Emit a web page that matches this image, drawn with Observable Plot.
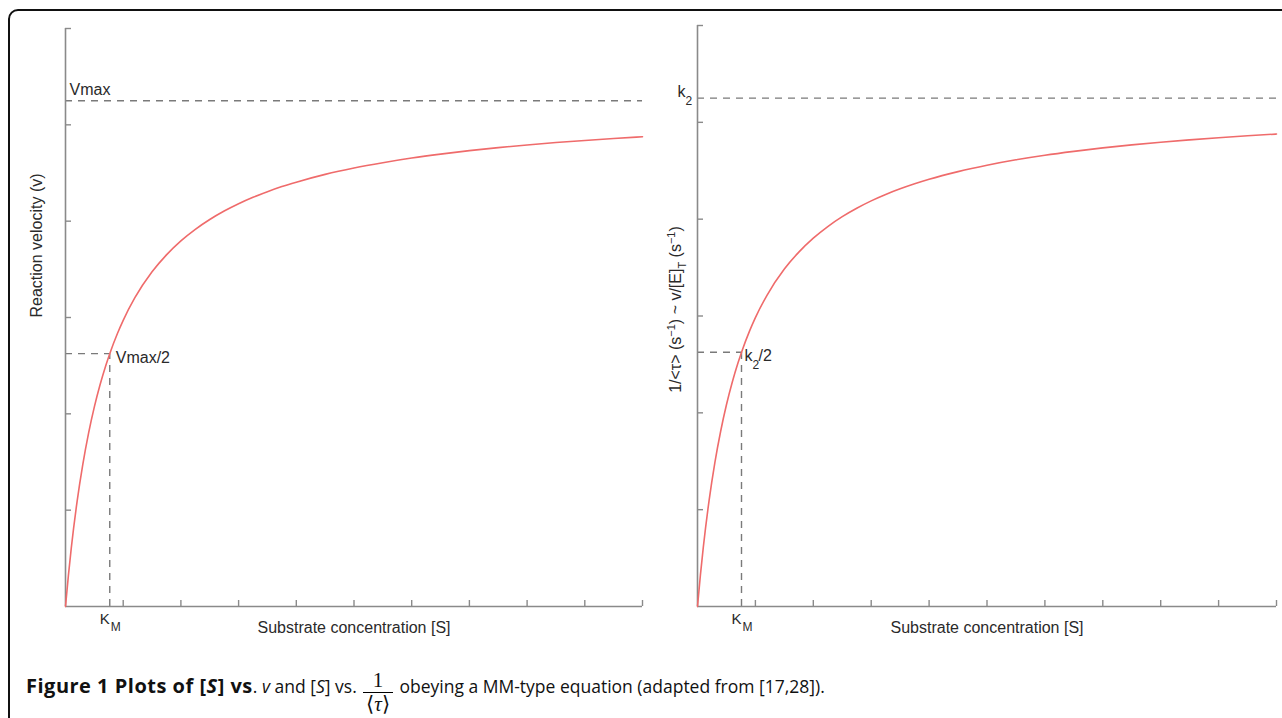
<!DOCTYPE html>
<html>
<head>
<meta charset="utf-8">
<script src="https://cdn.jsdelivr.net/npm/d3@7"></script>
<script src="https://cdn.jsdelivr.net/npm/@observablehq/plot@0.6"></script>
<style>
  html, body { margin: 0; padding: 0; background: #fff; width: 1282px; height: 718px; overflow: hidden; }
  #frame { position: absolute; left: 8px; top: 9px; width: 1400px; height: 800px; border: 2px solid #111; border-radius: 10px; }
  #left { position: absolute; left: 0; top: 0; }
  #right { position: absolute; left: 660px; top: 0; }
  #caption { position: absolute; left: 26px; top: 667px; font-family: "Open Sans", sans-serif; font-size: 17.5px; color: #111; white-space: nowrap; }
  #caption b { font-size: 20px; letter-spacing: 0.5px; }
  .frac { display: inline-flex; flex-direction: column; align-items: center; vertical-align: middle; position: relative; top: 4px; font-family: "Liberation Serif", serif; font-size: 21px; line-height: 19px; margin: 0 5px 0 5px; }
  .frac .bar { align-self: stretch; border-top: 1.6px solid #000; margin: 2px -3px 2px -3px; }
</style>
</head>
<body>
<div id="frame"></div>
<div id="left"></div>
<div id="right"></div>
<div id="caption"><b>Figure 1 Plots of [<i>S</i>] vs</b>. <i>v</i> and [<i>S</i>] vs. <span class="frac"><span>1</span><span class="bar"></span><span>⟨<i>τ</i>⟩</span></span> obeying a MM-type equation (adapted from [17,28]).</div>
<script>
// ---- data ----
const substrate = [0, 0.05, 0.1, 0.2, 0.3, 0.4, 0.5, 0.6, 0.7, 0.77, 0.9, 1, 1.2, 1.5, 1.75, 2, 2.25, 2.5, 2.75, 3, 3.25, 3.5, 3.75, 4, 4.5, 5, 5.5, 6, 6.5, 7, 7.5, 8, 8.5, 9, 9.5, 10];
const velocity  = [0, 0.321, 0.606, 1.086, 1.476, 1.800, 2.072, 2.304, 2.505, 2.630, 2.834, 2.971, 3.203, 3.474, 3.650, 3.795, 3.915, 4.017, 4.105, 4.181, 4.248, 4.306, 4.359, 4.405, 4.486, 4.552, 4.607, 4.655, 4.696, 4.732, 4.763, 4.791, 4.816, 4.838, 4.858, 4.876];
const invTau    = [0, 0.324, 0.610, 1.094, 1.486, 1.810, 2.083, 2.316, 2.517, 2.642, 2.846, 2.983, 3.214, 3.485, 3.660, 3.804, 3.924, 4.026, 4.113, 4.189, 4.255, 4.313, 4.365, 4.412, 4.491, 4.557, 4.613, 4.660, 4.700, 4.736, 4.767, 4.795, 4.819, 4.841, 4.861, 4.879];
const xTicks = [1, 2, 3, 4, 5, 6, 7, 8, 9, 10];
const yTicks = [1, 2, 3, 4, 5, 6];
const xDomain = [0, 10];
const yDomain = [0, 6];
const vmax = 5.25, kmLeft = 0.767;
const k2 = 5.25, kmRight = 0.76;
const xLabel = "Substrate concentration [S]";
const yLabelLeft = "Reaction velocity (v)";

const AXIS = "#8a8a8a", DASH = "#7a7a7a", CURVE = "#ef6b6b", TXT = "#2a2a2a";
const FONT = "'Liberation Sans', Arial, sans-serif";

function panel({series, top, left, width, plotWidth, km, ymax, dashExtend, texts}) {
  const rows = substrate.map((s, i) => ({s, v: series[i]}));
  const dashed = {stroke: DASH, strokeWidth: 1.4, strokeDasharray: "7,6"};
  return Plot.plot({
    width, height: 660,
    marginLeft: left, marginRight: width - left - plotWidth, marginTop: top, marginBottom: 54,
    x: {domain: xDomain, axis: null},
    y: {domain: yDomain, axis: null},
    style: {fontFamily: FONT, fontSize: "16px", color: TXT, background: "transparent", overflow: "visible"},
    marks: [
      Plot.ruleY([ymax], {x1: 0, x2: 10, insetRight: -dashExtend, ...dashed}),
      Plot.ruleY([ymax / 2], {x1: 0, x2: km, ...dashed}),
      Plot.ruleX([km], {y1: 0, y2: ymax / 2, ...dashed}),
      Plot.ruleX([0], {y1: 0, y2: 6, stroke: AXIS, strokeWidth: 1.6}),
      Plot.ruleY([0], {x1: 0, x2: 10, stroke: AXIS, strokeWidth: 1.6}),
      Plot.ruleX(xTicks, {y1: 0, y2: 0, insetBottom: 6, stroke: AXIS, strokeWidth: 1.4}),
      Plot.ruleY(yTicks, {x1: 0, x2: 0, insetRight: -6, stroke: AXIS, strokeWidth: 1.4}),
      Plot.line(rows, {x: "s", y: "v", stroke: CURVE, strokeWidth: 1.6, curve: "monotone-x"}),
      Plot.text([xLabel], {frameAnchor: "bottom", dy: 26, fill: TXT, fontSize: 16}),
      // K_M
      Plot.text([km], {x: d => d, y: 0, text: () => "K", textAnchor: "end", dx: 0, dy: 13, fill: TXT, fontSize: 15}),
      Plot.text([km], {x: d => d, y: 0, text: () => "M", textAnchor: "start", dx: 1, dy: 21, fill: TXT, fontSize: 12}),
      ...texts
    ]
  });
}

const leftPlot = panel({
  series: velocity, top: 28, left: 65, width: 660, plotWidth: 577, km: kmLeft, ymax: vmax, dashExtend: 0,
  texts: [
    Plot.text([yLabelLeft], {frameAnchor: "left", rotate: -90, dx: -29, fill: TXT, fontSize: 16}),
    Plot.text([vmax], {x: 0, y: d => d, text: () => "Vmax", textAnchor: "start", dx: 4, dy: -11, fill: TXT, fontSize: 16}),
    Plot.text([vmax / 2], {x: kmLeft, y: d => d, text: () => "Vmax/2", textAnchor: "start", dx: 6, dy: 4, fill: TXT, fontSize: 16})
  ]
});
document.getElementById("left").appendChild(leftPlot);

const rightPlot = panel({
  series: invTau, top: 25, left: 37, width: 622, plotWidth: 579, km: kmRight, ymax: k2, dashExtend: 8,
  texts: [
    Plot.text([k2], {x: 0, y: d => d, text: () => "k", textAnchor: "end", dx: -12, dy: -6, fill: TXT, fontSize: 16}),
    Plot.text([k2], {x: 0, y: d => d, text: () => "2", textAnchor: "start", dx: -12, dy: 3, fill: TXT, fontSize: 12}),
    Plot.text([k2 / 2], {x: kmRight, y: d => d, text: () => "k", textAnchor: "start", dx: 3, dy: 4, fill: TXT, fontSize: 16}),
    Plot.text([k2 / 2], {x: kmRight, y: d => d, text: () => "2", textAnchor: "start", dx: 11, dy: 13, fill: TXT, fontSize: 12}),
    Plot.text([k2 / 2], {x: kmRight, y: d => d, text: () => "/2", textAnchor: "start", dx: 17, dy: 4, fill: TXT, fontSize: 16})
  ]
});
document.getElementById("right").appendChild(rightPlot);

// rotated y label with super/subscripts for the right panel
const svgR = d3.select(rightPlot);
const yS = rightPlot.scale("y");
const cy = (yS.apply(0) + yS.apply(6)) / 2;
const lab = svgR.append("text")
  .attr("transform", `translate(15,${cy - 6}) rotate(-90)`)
  .attr("text-anchor", "middle").attr("dy", "0.35em")
  .attr("fill", TXT).style("font-family", FONT).style("font-size", "16px");
lab.append("tspan").text("1/<τ> (s");
lab.append("tspan").attr("dy", -6).style("font-size", "11px").text("−1");
lab.append("tspan").attr("dy", 6).text(") ~ v/[E]");
lab.append("tspan").attr("dy", 5).style("font-size", "11px").text("T");
lab.append("tspan").attr("dy", -5).text(" (s");
lab.append("tspan").attr("dy", -6).style("font-size", "11px").text("−1");
lab.append("tspan").attr("dy", 6).text(")");
</script>
</body>
</html>
